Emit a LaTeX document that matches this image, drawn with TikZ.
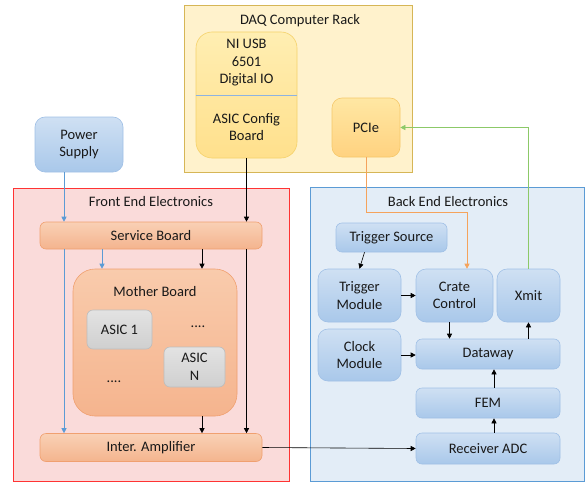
\documentclass[tikz,border=0pt]{standalone}
\usepackage{fontspec}
\setmainfont{Carlito}
\usetikzlibrary{arrows.meta}
\definecolor{rackfill}{HTML}{FFF2CC}
\definecolor{rackline}{HTML}{D6B656}
\definecolor{feefill}{HTML}{FADBDA}
\definecolor{feeline}{HTML}{FF3333}
\definecolor{beefill}{HTML}{E3EDF7}
\definecolor{beeline}{HTML}{5B9BD5}
\definecolor{pwrline}{HTML}{5B9BD5}
\definecolor{pcieline}{HTML}{F5A35C}
\definecolor{xmitline}{HTML}{8CC968}
\def\boxfont{\fontsize{14.5}{17.5}\selectfont}
\tikzset{
  every node/.style={font=\boxfont, align=center, text=black!90},
  size/.style 2 args={minimum width=#1, minimum height=#2},
  group/.style={draw, line width=0.9pt, inner sep=0pt},
  box/.style={draw, rounded corners=6pt, inner sep=0pt, line width=0.6pt},
  yellowbox/.style={box, rounded corners=16pt, top color={rgb,255:red,255;green,238;blue,178}, bottom color={rgb,255:red,255;green,224;blue,140}, draw={rgb,255:red,245;green,210;blue,107}},
  pciebox/.style={box, rounded corners=10pt, top color={rgb,255:red,255;green,231;blue,163}, bottom color={rgb,255:red,255;green,210;blue,128}, draw={rgb,255:red,245;green,200;blue,106}},
  bluebox/.style={box, top color={rgb,255:red,207;green,224;blue,243}, bottom color={rgb,255:red,169;green,200;blue,234}, draw={rgb,255:red,160;green,192;blue,230}},
  salmonbox/.style={box, top color={rgb,255:red,249;green,208;blue,181}, bottom color={rgb,255:red,244;green,180;blue,142}, draw={rgb,255:red,240;green,160;blue,112}},
  greybox/.style={box, top color={rgb,255:red,227;green,227;blue,227}, bottom color={rgb,255:red,207;green,207;blue,207}, draw={rgb,255:red,189;green,189;blue,189}},
  link/.style={line width=0.6pt, -{Triangle[length=5pt,width=5pt]}},
}
\begin{document}
\begin{tikzpicture}[x=1pt, y=-1pt]
\useasboundingbox (0,0) rectangle (585,484);

\node[group, size={228pt}{167pt}, fill=rackfill, draw=rackline] (rack) at (298,88.5) {};
\node (racktitle) at (300,21) {DAQ Computer Rack};
\node[yellowbox, size={101pt}{126pt}] (cfgboard) at (246.5,95) {};
\draw[line width=0.6pt, color={rgb,255:red,141;green,179;blue,226}] (cfgboard.west) -- (cfgboard.east);
\node (niusb) at (246.5,63) {NI USB\\6501\\Digital IO};
\node (asiccfg) at (246.5,127) {ASIC Config\\Board};
\node[pciebox, size={68pt}{59pt}] (pcie) at (366,127.5) {PCIe};

\node[bluebox, rounded corners=10pt, size={88pt}{55pt}] (power) at (79,144.5) {Power\\Supply};

\node[group, size={276pt}{293pt}, fill=feefill, draw=feeline] (fee) at (151,334.5) {};
\node (feetitle) at (151,202) {Front End Electronics};
\node[salmonbox, size={222pt}{27pt}] (service) at (151,235.5) {Service Board};
\node[salmonbox, rounded corners=22pt, size={164pt}{147pt}, top color={rgb,255:red,249;green,203;blue,172}, bottom color={rgb,255:red,245;green,180;blue,142}] (mother) at (155,342.5) {};
\node (mothertitle) at (155,292) {Mother Board};
\node[greybox, size={65pt}{39pt}] (asic1) at (119.5,329.5) {ASIC 1};
\node[greybox, size={61pt}{40pt}] (asicn) at (194.5,367) {ASIC\\N};
\node (dotsa) at (198,327) {....};
\node (dotsb) at (114,382) {....};
\node[salmonbox, size={222pt}{28pt}] (interamp) at (151,447.5) {Inter. Amplifier};

\node[group, size={274pt}{294pt}, fill=beefill, draw=beeline] (bee) at (447,334) {};
\node (beetitle) at (448,202) {Back End Electronics};
\node[bluebox, size={111pt}{29pt}] (trigsrc) at (391.5,237.5) {Trigger Source};
\node[bluebox, rounded corners=10pt, size={83pt}{53pt}] (trigmod) at (359.5,295.5) {Trigger\\Module};
\node[bluebox, rounded corners=10pt, size={77pt}{53pt}] (crate) at (454.5,295.5) {Crate\\Control};
\node[bluebox, rounded corners=10pt, size={63pt}{53pt}] (xmit) at (528.5,295.5) {Xmit};
\node[bluebox, rounded corners=10pt, size={83pt}{52pt}] (clock) at (359.5,355) {Clock\\Module};
\node[bluebox, size={144pt}{30pt}] (dataway) at (488,354) {Dataway};
\node[bluebox, size={144pt}{30pt}] (fem) at (488,403) {FEM};
\node[bluebox, size={144pt}{31pt}] (adc) at (488,448.5) {Receiver ADC};

\draw[link, pwrline] ([xshift=-15pt]power.south) -- ([xshift=-15pt]power.south |- service.north);
\draw[link, pwrline] ([xshift=-87pt]service.south) -- ([xshift=-87pt]service.south |- interamp.north);
\draw[link, pwrline] ([xshift=-49pt]service.south) -- ([xshift=-49pt]service.south |- mother.north);
\draw[link] ([xshift=51pt]service.south) -- ([xshift=51pt]service.south |- mother.north);
\draw[link] (cfgboard.south) -- (cfgboard.south |- service.north);
\draw[link] (cfgboard.south |- service.south) -- (cfgboard.south |- interamp.north);
\draw[link] ([xshift=47pt]mother.south) -- ([xshift=47pt]mother.south |- interamp.north);
\draw[link] (interamp.east) -- (adc.west);

\draw[link] ([xshift=-27pt]trigsrc.south) -- (trigmod.north);
\draw[link] (trigmod.east) -- (crate.west);
\draw[link] ([xshift=-5pt]crate.south) -- ([xshift=-5pt]crate.south |- dataway.north);
\draw[link] (xmit.south |- dataway.north) -- (xmit.south);
\draw[link] (clock.east) -- (clock.east -| dataway.west);
\draw[link] ([xshift=6pt]fem.north) -- ([xshift=6pt]dataway.south);
\draw[link] ([xshift=6pt]adc.north) -- ([xshift=6pt]fem.south);

\coordinate (pciebend) at (366,212);
\draw[link, pcieline] (pcie.south) -- (pciebend) -| ([xshift=12.5pt]crate.north);
\draw[link, xmitline] (xmit.north) |- (pcie.east);
\end{tikzpicture}
\end{document}
